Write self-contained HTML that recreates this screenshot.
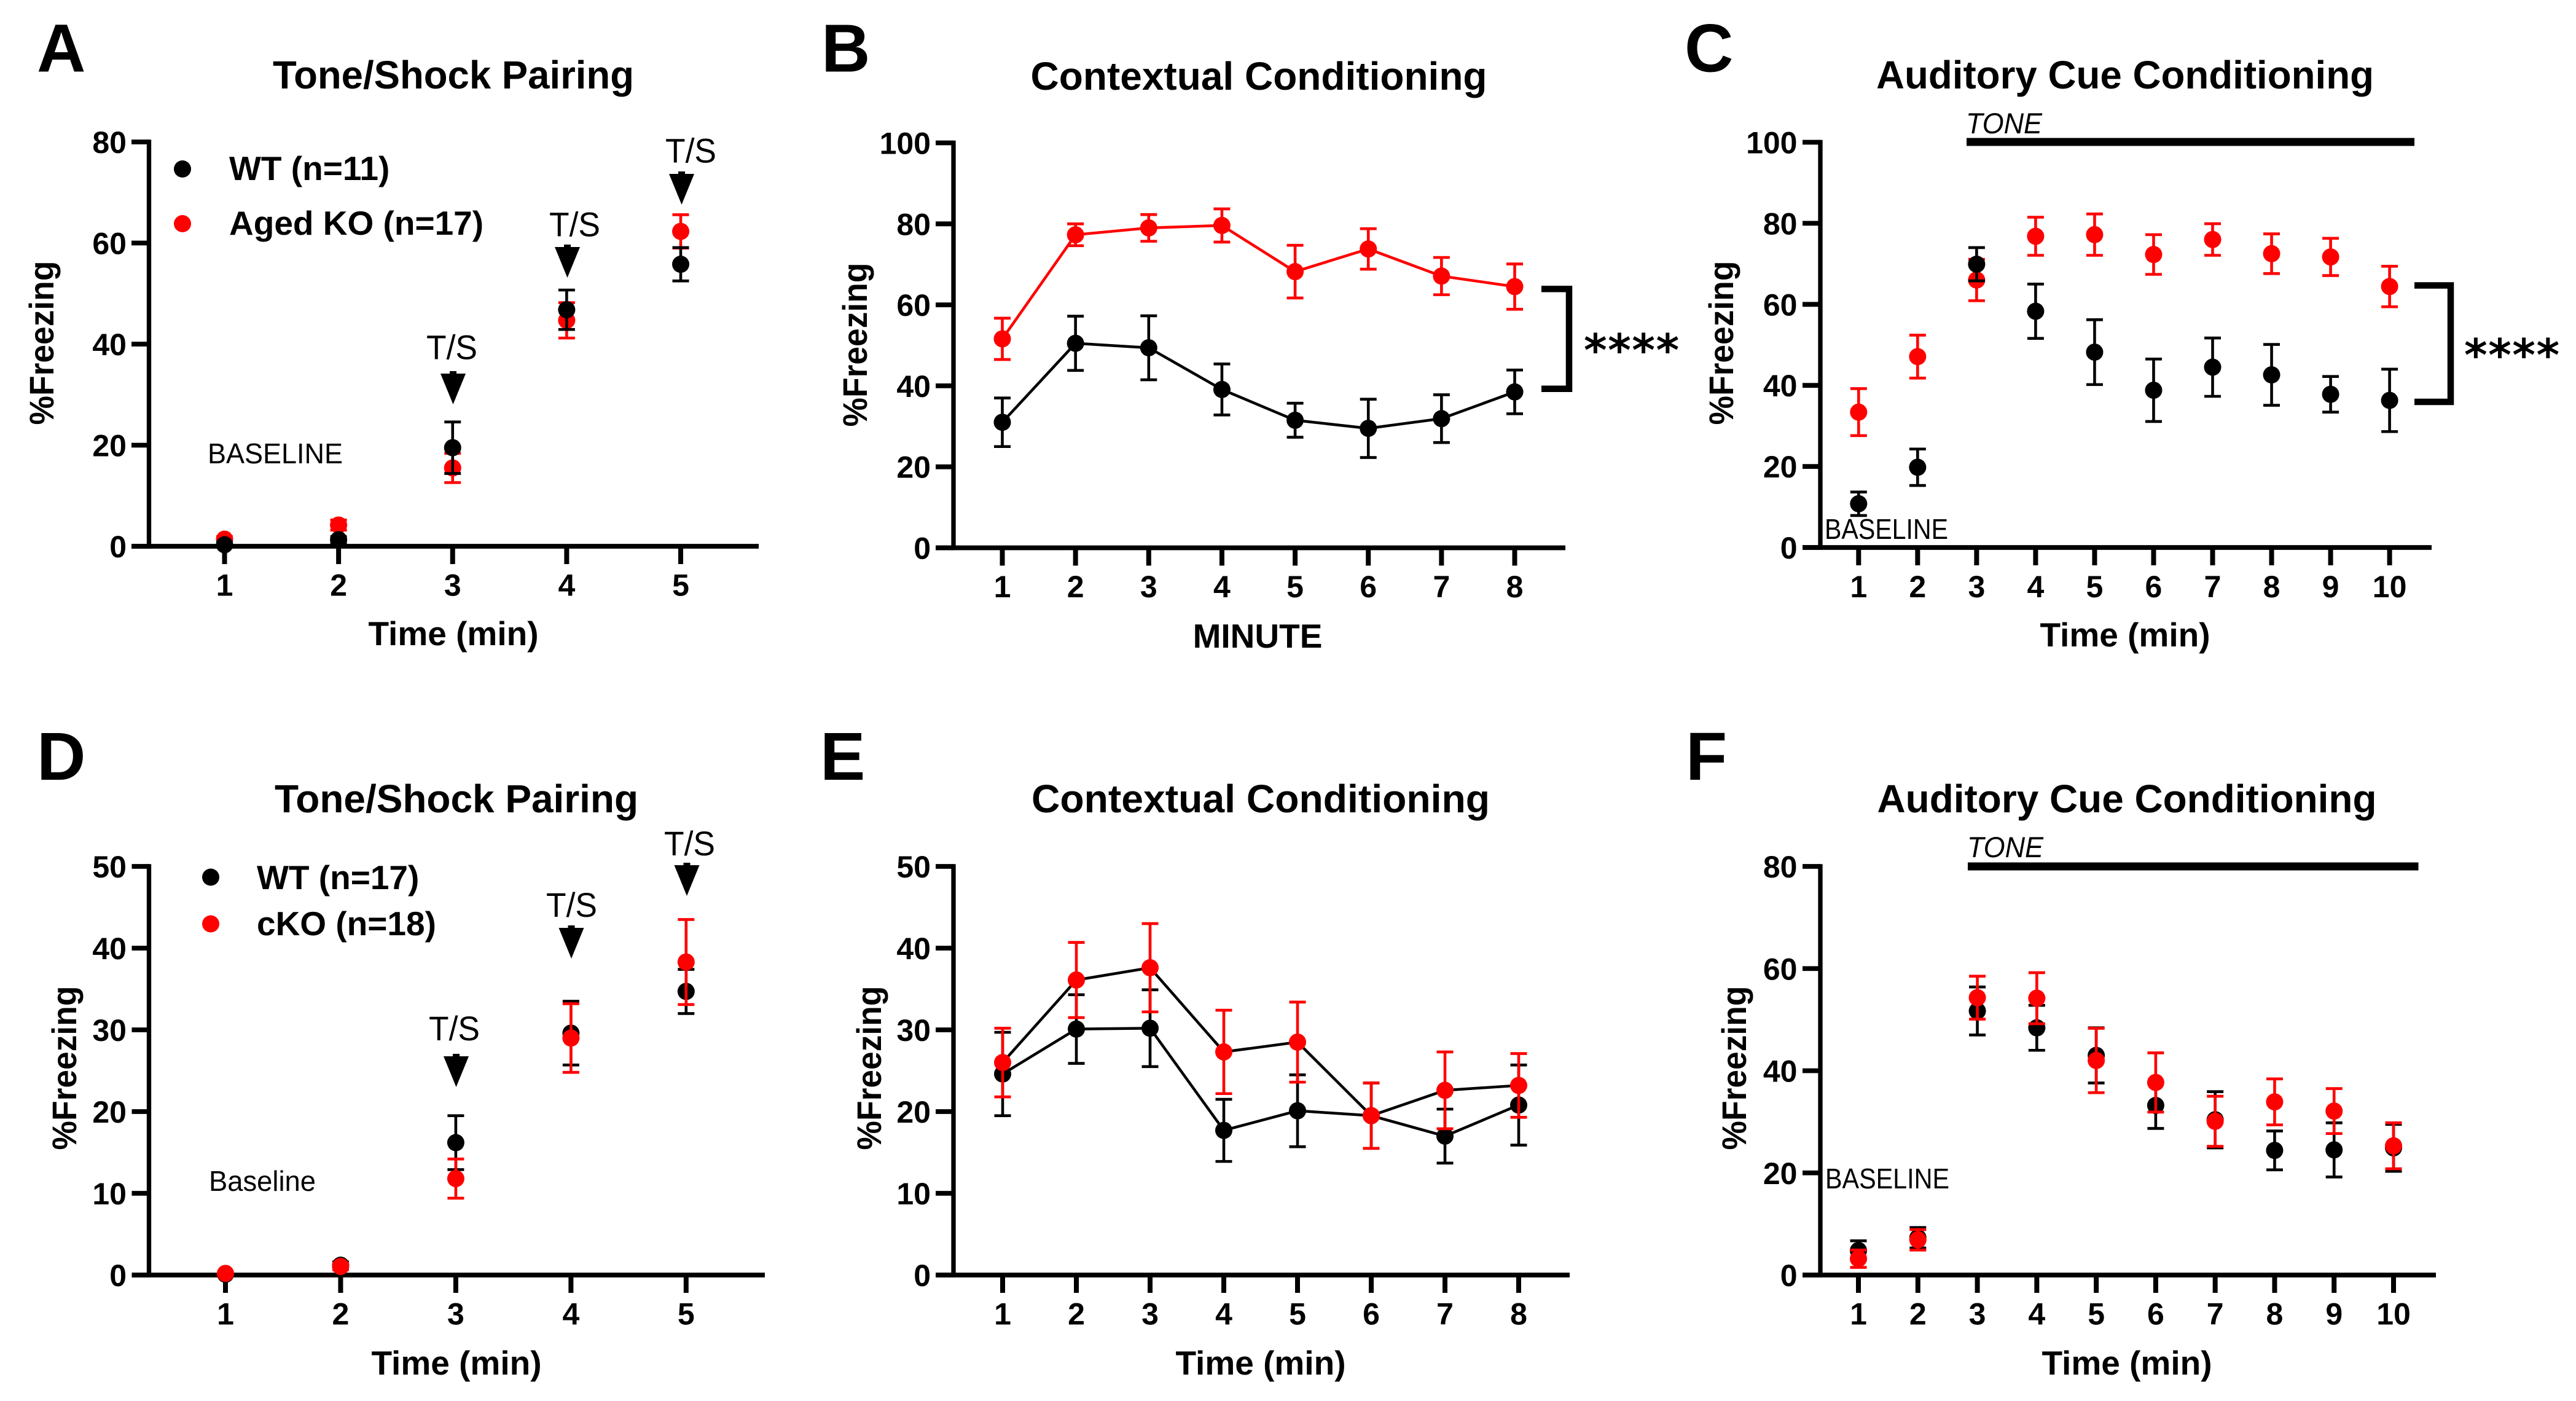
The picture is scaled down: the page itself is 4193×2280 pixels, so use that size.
<!DOCTYPE html>
<html lang="en">
<head>
<meta charset="utf-8">
<title>Freezing behaviour panels A-F</title>
<style>
  html, body { margin: 0; padding: 0; background: #fff; }
  svg { display: block; font-family: "Liberation Sans", sans-serif; }
  .letter { font-size: 110px; font-weight: 700; }
  .title { font-size: 64px; font-weight: 700; text-anchor: middle; }
  .xlabel { font-size: 55px; font-weight: 700; text-anchor: middle; }
  .ylabel { font-size: 56px; font-weight: 700; text-anchor: middle; }
  .legend { font-size: 55px; font-weight: 700; }
  .note { font-size: 46px; }
  .ts { font-size: 56px; }
  .tone { font-size: 47px; font-style: italic; }
  .stars { font-size: 72px; font-weight: 700; font-family: "DejaVu Sans", sans-serif; }
  .tick { font-size: 50px; font-weight: 700; }
</style>
</head>
<body>
<svg id="figure" xmlns="http://www.w3.org/2000/svg" width="4193" height="2280" viewBox="0 0 4193 2280">
  <rect width="4193" height="2280" fill="#fff"/>

  <g id="panel-a">
    <text class="letter" x="60" y="116.5">A</text>
    <text class="title" x="738" y="144" textLength="588" lengthAdjust="spacingAndGlyphs">Tone/Shock Pairing</text>
    <text class="xlabel" x="738" y="1050">Time (min)</text>
    <text class="ylabel" x="87" y="558" transform="rotate(-90 87 558)" textLength="267" lengthAdjust="spacingAndGlyphs">%Freezing</text>
    <g>
      <circle cx="297" cy="275" r="14" fill="#000"/>
      <text class="legend" x="373" y="293">WT (n=11)</text>
      <circle cx="297" cy="364" r="14" fill="#f00"/>
      <text class="legend" x="373" y="382">Aged KO (n=17)</text>
    </g>
    <text class="note" x="338" y="754" textLength="220" lengthAdjust="spacingAndGlyphs">BASELINE</text>
    <text class="ts" x="694" y="584.5" textLength="83" lengthAdjust="spacingAndGlyphs">T/S</text>
    <text class="ts" x="894" y="384.5" textLength="83" lengthAdjust="spacingAndGlyphs">T/S</text>
    <text class="ts" x="1083" y="264.5" textLength="83" lengthAdjust="spacingAndGlyphs">T/S</text>
    <path d="M-20.5 0H-5.5V-4H5.5V0H20.5L0 50Z" transform="translate(737.5,608)"/>
    <path d="M-20.5 0H-5.5V-4H5.5V0H20.5L0 50Z" transform="translate(923.5,402)"/>
    <path d="M-20.5 0H-5.5V-4H5.5V0H20.5L0 50Z" transform="translate(1109.5,283)"/>
  </g>

  <g id="panel-b">
    <text class="letter" x="1337" y="116.5">B</text>
    <text class="title" x="2049" y="146" textLength="743" lengthAdjust="spacingAndGlyphs">Contextual Conditioning</text>
    <text class="xlabel" x="2047" y="1054">MINUTE</text>
    <text class="ylabel" x="1411" y="561" transform="rotate(-90 1411 561)" textLength="267" lengthAdjust="spacingAndGlyphs">%Freezing</text>
    <polyline points="2509,470.3 2554,470.3 2554,632.7 2509,632.7" fill="none" stroke="#000" stroke-width="10.5"/>
    <text class="stars" x="2578" y="595" letter-spacing="1.5">****</text>
  </g>

  <g id="panel-c">
    <text class="letter" x="2742" y="116.5">C</text>
    <text class="title" x="3459" y="144" textLength="810" lengthAdjust="spacingAndGlyphs">Auditory Cue Conditioning</text>
    <text class="xlabel" x="3459" y="1052">Time (min)</text>
    <text class="ylabel" x="2821" y="558" transform="rotate(-90 2821 558)" textLength="267" lengthAdjust="spacingAndGlyphs">%Freezing</text>
    <text class="tone" x="3200" y="217" textLength="124" lengthAdjust="spacingAndGlyphs">TONE</text>
    <rect x="3201" y="224.5" width="729" height="13" fill="#000"/>
    <text class="note" x="2970" y="877" textLength="201" lengthAdjust="spacingAndGlyphs">BASELINE</text>
    <polyline points="3930,464.5 3989,464.5 3989,654 3930,654" fill="none" stroke="#000" stroke-width="10.5"/>
    <text class="stars" x="4011" y="603" letter-spacing="1.5">****</text>
  </g>

  <g id="panel-d">
    <text class="letter" x="60" y="1269">D</text>
    <text class="title" x="743" y="1322" textLength="592" lengthAdjust="spacingAndGlyphs">Tone/Shock Pairing</text>
    <text class="xlabel" x="743" y="2237">Time (min)</text>
    <text class="ylabel" x="124" y="1738" transform="rotate(-90 124 1738)" textLength="267" lengthAdjust="spacingAndGlyphs">%Freezing</text>
    <g>
      <circle cx="343" cy="1427.5" r="14" fill="#000"/>
      <text class="legend" x="418" y="1447">WT (n=17)</text>
      <circle cx="343" cy="1503.5" r="14" fill="#f00"/>
      <text class="legend" x="418" y="1522">cKO (n=18)</text>
    </g>
    <text class="note" x="340" y="1938" textLength="174" lengthAdjust="spacingAndGlyphs">Baseline</text>
    <text class="ts" x="698" y="1693" textLength="83" lengthAdjust="spacingAndGlyphs">T/S</text>
    <text class="ts" x="889" y="1492" textLength="83" lengthAdjust="spacingAndGlyphs">T/S</text>
    <text class="ts" x="1081" y="1392" textLength="83" lengthAdjust="spacingAndGlyphs">T/S</text>
    <path d="M-20.5 0H-5.5V-4H5.5V0H20.5L0 50Z" transform="translate(742.5,1719)"/>
    <path d="M-20.5 0H-5.5V-4H5.5V0H20.5L0 50Z" transform="translate(930,1510)"/>
    <path d="M-20.5 0H-5.5V-4H5.5V0H20.5L0 50Z" transform="translate(1118,1408)"/>
  </g>

  <g id="panel-e">
    <text class="letter" x="1335" y="1269">E</text>
    <text class="title" x="2052" y="1322" textLength="746" lengthAdjust="spacingAndGlyphs">Contextual Conditioning</text>
    <text class="xlabel" x="2052" y="2237">Time (min)</text>
    <text class="ylabel" x="1434" y="1738" transform="rotate(-90 1434 1738)" textLength="267" lengthAdjust="spacingAndGlyphs">%Freezing</text>
  </g>

  <g id="panel-f">
    <text class="letter" x="2744" y="1269">F</text>
    <text class="title" x="3462" y="1322" textLength="813" lengthAdjust="spacingAndGlyphs">Auditory Cue Conditioning</text>
    <text class="xlabel" x="3462" y="2237">Time (min)</text>
    <text class="ylabel" x="2842" y="1738" transform="rotate(-90 2842 1738)" textLength="267" lengthAdjust="spacingAndGlyphs">%Freezing</text>
    <text class="tone" x="3202" y="1395" textLength="124" lengthAdjust="spacingAndGlyphs">TONE</text>
    <rect x="3203" y="1403.5" width="733.5" height="13" fill="#000"/>
    <text class="note" x="2971" y="1934" textLength="202" lengthAdjust="spacingAndGlyphs">BASELINE</text>
  </g>
</svg>

<script>
/* ---------- data: categories, tick labels, series values ---------- */
const minutes5 = [1, 2, 3, 4, 5];
const minutes8 = [1, 2, 3, 4, 5, 6, 7, 8];
const minutes10 = [1, 2, 3, 4, 5, 6, 7, 8, 9, 10];
const ticks80 = [0, 20, 40, 60, 80];
const ticks100 = [0, 20, 40, 60, 80, 100];
const ticks50 = [0, 10, 20, 30, 40, 50];

const aWtMean = [0.3, 1.3, 19.5, 46.8, 55.8];
const aWtSem = [0.5, 0.6, 5.1, 3.9, 3.3];
const aKoMean = [1.4, 4.2, 15.5, 44.7, 62.3];
const aKoSem = [0.5, 1.0, 2.9, 3.5, 3.3];

const bWtMean = [31, 50.5, 49.4, 39.1, 31.5, 29.5, 31.9, 38.5];
const bWtSem = [6.0, 6.7, 7.9, 6.3, 4.2, 7.2, 5.9, 5.4];
const bKoMean = [51.6, 77.3, 79, 79.6, 68.2, 73.8, 67.1, 64.5];
const bKoSem = [5.1, 2.7, 3.3, 4.1, 6.5, 5.0, 4.6, 5.6];

const cWtMean = [10.8, 19.8, 69.9, 58.3, 48.2, 38.8, 44.5, 42.6, 37.8, 36.3];
const cWtSem = [2.9, 4.5, 4.1, 6.7, 8.0, 7.7, 7.2, 7.5, 4.4, 7.7];
const cKoMean = [33.4, 47.1, 66, 76.8, 77.2, 72.3, 76, 72.5, 71.7, 64.4];
const cKoSem = [5.8, 5.3, 5.1, 4.7, 5.1, 4.9, 3.9, 4.9, 4.6, 5.0];

const dWtMean = [0.1, 1.2, 16.2, 29.6, 34.7];
const dWtSem = [0.2, 0.4, 3.3, 3.9, 2.7];
const dKoMean = [0.2, 1.05, 11.8, 29, 38.3];
const dKoSem = [0.2, 0.4, 2.4, 4.2, 5.2];

const eWtMean = [24.6, 30.1, 30.2, 17.7, 20.1, 19.5, 17, 20.8];
const eWtSem = [5.1, 4.2, 4.7, 3.8, 4.4, 4.0, 3.3, 4.9];
const eKoMean = [26, 36.1, 37.6, 27.3, 28.5, 19.5, 22.6, 23.2];
const eKoSem = [4.2, 4.6, 5.4, 5.1, 4.9, 4.0, 4.7, 3.9];

const fWtMean = [4.8, 7.3, 51.7, 48.4, 43, 33.2, 30.4, 24.4, 24.5, 24.9];
const fWtSem = [1.9, 2.0, 4.7, 4.4, 5.4, 4.5, 5.5, 3.8, 5.3, 4.6];
const fKoMean = [3.2, 6.9, 54.3, 54.2, 42, 37.7, 30.1, 33.9, 32.1, 25.3];
const fKoSem = [1.7, 2.0, 4.2, 5.0, 6.3, 5.8, 4.9, 4.5, 4.4, 4.5];

/* ---------- axis frames (layout only) ---------- */
const frameA = { id: 'a', axisX: 242.5, tickLeft: 214, xEnd: 1235, y0: 889, yTop: 231, xFirst: 365.5, xLast: 1108, yMax: 80, labelRight: 206, xLabelY: 969.5 };
const frameB = { id: 'b', axisX: 1552, tickLeft: 1523, xEnd: 2548, y0: 891.5, yTop: 232.5, xFirst: 1631.5, xLast: 2465.5, yMax: 100, labelRight: 1515, xLabelY: 972 };
const frameC = { id: 'c', axisX: 2963, tickLeft: 2934, xEnd: 3958, y0: 891, yTop: 231.5, xFirst: 3025.3, xLast: 3889.6, yMax: 100, labelRight: 2925.5, xLabelY: 972 };
const frameD = { id: 'd', axisX: 242.5, tickLeft: 214.5, xEnd: 1245, y0: 2075, yTop: 1410, xFirst: 367, xLast: 1116.8, yMax: 50, labelRight: 206, xLabelY: 2155.5 };
const frameE = { id: 'e', axisX: 1552, tickLeft: 1523, xEnd: 2555, y0: 2075, yTop: 1410, xFirst: 1632, xLast: 2472, yMax: 50, labelRight: 1515, xLabelY: 2155.5 };
const frameF = { id: 'f', axisX: 2963, tickLeft: 2934, xEnd: 3965, y0: 2075, yTop: 1410, xFirst: 3025, xLast: 3896, yMax: 80, labelRight: 2925.5, xLabelY: 2155.5 };

const SVG_NS = 'http://www.w3.org/2000/svg';
const BLACK = '#000';
const RED = '#f00';

function mk(parent, tag, attrs, name) {
  const el = document.createElementNS(SVG_NS, tag);
  for (const k in attrs) el.setAttribute(k, attrs[k]);
  
  
  parent.appendChild(el);
  return el;
}

function drawAxes(group, f, cats, yTicks, xScale, yScale) {
  mk(group, 'line', { x1: f.axisX, x2: f.axisX, y1: f.yTop - 3.75, y2: f.y0 + 3.75, stroke: BLACK, 'stroke-width': 7.3 }, 'y-axis-' + f.id);
  mk(group, 'line', { x1: f.tickLeft, x2: f.xEnd, y1: f.y0, y2: f.y0, stroke: BLACK, 'stroke-width': 7.8 }, 'x-axis-' + f.id);
  yTicks.forEach(function (v) {
    mk(group, 'line', { x1: f.tickLeft, x2: f.axisX, y1: yScale(v), y2: yScale(v), stroke: BLACK, 'stroke-width': 7.8 }, 'y-tick-' + f.id + '-' + v);
    const t = mk(group, 'text', { x: f.labelRight, y: yScale(v) + 18, 'text-anchor': 'end', class: 'tick' }, 'y-tick-label-' + f.id + '-' + v);
    t.textContent = v;
  });
  cats.forEach(function (c, i) {
    mk(group, 'line', { x1: xScale(i), x2: xScale(i), y1: f.y0, y2: f.y0 + 29, stroke: BLACK, 'stroke-width': 8 }, 'x-tick-' + f.id + '-' + c);
    const t = mk(group, 'text', { x: xScale(i), y: f.xLabelY, 'text-anchor': 'middle', class: 'tick' }, 'x-tick-label-' + f.id + '-' + c);
    t.textContent = c;
  });
}

function drawSeries(group, f, key, means, sems, color, lineColor, xScale, yScale) {
  if (lineColor) {
    const pts = means.map(function (m, i) { return xScale(i) + ',' + yScale(m); }).join(' ');
    mk(group, 'polyline', { points: pts, fill: 'none', stroke: lineColor, 'stroke-width': 4.5, 'stroke-linejoin': 'round' }, 'line-' + f.id + '-' + key);
  }
  means.forEach(function (m, i) {
    const x = xScale(i);
    const top = yScale(m + sems[i]);
    const bot = yScale(m - sems[i]);
    mk(group, 'path', {
      d: 'M' + (x - 13.5) + ' ' + top + 'H' + (x + 13.5) + 'M' + x + ' ' + top + 'V' + bot + 'M' + (x - 13.5) + ' ' + bot + 'H' + (x + 13.5),
      fill: 'none', stroke: color, 'stroke-width': 4.6
    }, 'error-bar-' + f.id + '-' + key + '-' + (i + 1));
  });
  means.forEach(function (m, i) {
    mk(group, 'circle', { cx: xScale(i), cy: yScale(m), r: 14, fill: color }, 'point-' + f.id + '-' + key + '-' + (i + 1));
  });
}

function drawPanel(f, cats, yTicks, series) {
  const group = document.getElementById('panel-' + f.id);
  const step = (f.xLast - f.xFirst) / (cats.length - 1);
  const xScale = function (i) { return f.xFirst + i * step; };
  const yScale = function (v) { return f.y0 - (v / f.yMax) * (f.y0 - f.yTop); };
  drawAxes(group, f, cats, yTicks, xScale, yScale);
  series.forEach(function (s) {
    drawSeries(group, f, s.key, s.means, s.sems, s.color, s.line, xScale, yScale);
  });
}

drawPanel(frameA, minutes5, ticks80, [
  { key: 'aged-ko', means: aKoMean, sems: aKoSem, color: RED, line: null },
  { key: 'wt', means: aWtMean, sems: aWtSem, color: BLACK, line: null }
]);
drawPanel(frameB, minutes8, ticks100, [
  { key: 'wt', means: bWtMean, sems: bWtSem, color: BLACK, line: BLACK },
  { key: 'ko', means: bKoMean, sems: bKoSem, color: RED, line: RED }
]);
drawPanel(frameC, minutes10, ticks100, [
  { key: 'ko', means: cKoMean, sems: cKoSem, color: RED, line: null },
  { key: 'wt', means: cWtMean, sems: cWtSem, color: BLACK, line: null }
]);
drawPanel(frameD, minutes5, ticks50, [
  { key: 'wt', means: dWtMean, sems: dWtSem, color: BLACK, line: null },
  { key: 'cko', means: dKoMean, sems: dKoSem, color: RED, line: null }
]);
drawPanel(frameE, minutes8, ticks50, [
  { key: 'wt', means: eWtMean, sems: eWtSem, color: BLACK, line: BLACK },
  { key: 'cko', means: eKoMean, sems: eKoSem, color: RED, line: BLACK }
]);
drawPanel(frameF, minutes10, ticks80, [
  { key: 'wt', means: fWtMean, sems: fWtSem, color: BLACK, line: null },
  { key: 'cko', means: fKoMean, sems: fKoSem, color: RED, line: null }
]);
</script>
</body>
</html>
